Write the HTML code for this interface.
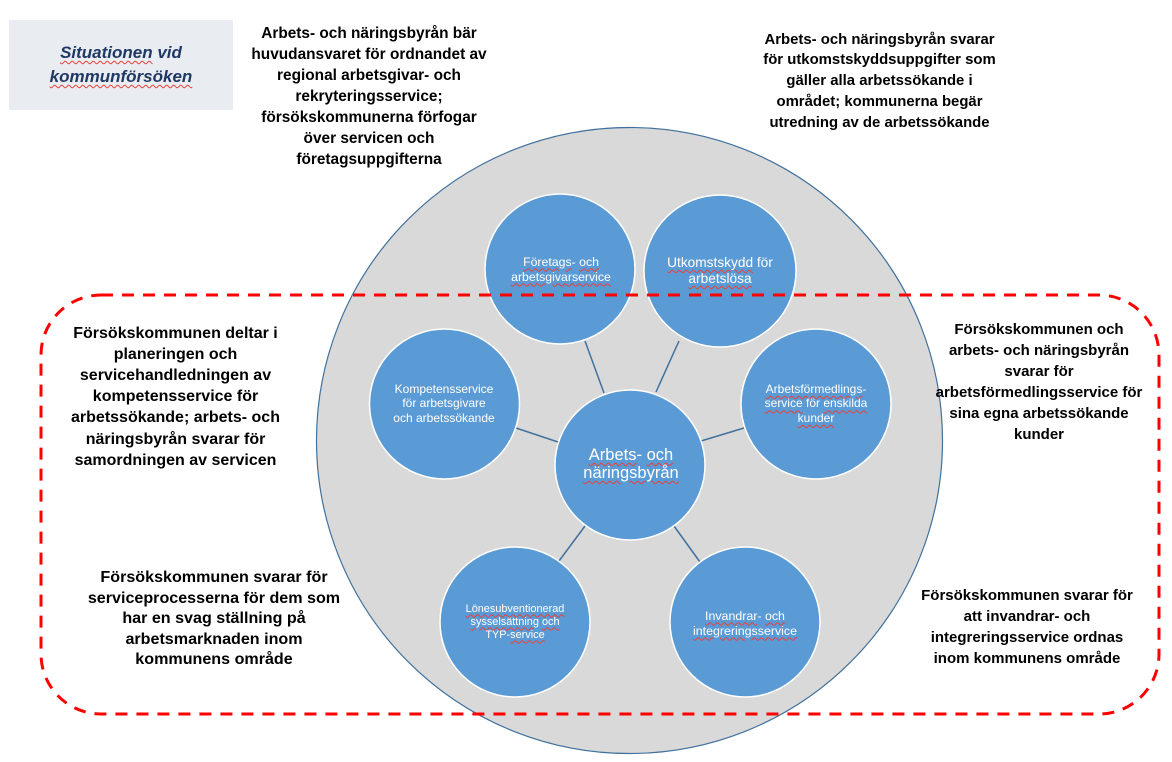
<!DOCTYPE html>
<html>
<head>
<meta charset="utf-8">
<style>
  html, body { margin:0; padding:0; background:#fff; }
  body { width:1172px; height:762px; position:relative; overflow:hidden;
         font-family:"Liberation Sans", "DejaVu Sans", sans-serif; }
  svg { position:absolute; left:0; top:0; }
  .t { position:absolute; text-align:center; white-space:nowrap; }
  .blk { font-weight:bold; color:#000; }
  .c { color:#fff; }
  .sq { text-decoration: underline wavy #e8403a; text-decoration-thickness:1px; text-underline-offset:2px; }
  .title { font-weight:bold; font-style:italic; color:#1F3864; font-size:17px; line-height:24px; }
</style>
</head>
<body>
<svg width="1172" height="762" viewBox="0 0 1172 762">
  <rect x="9" y="20" width="224" height="90" fill="#E9ECF1"/>
  <circle cx="629.5" cy="440.5" r="313" fill="#D9D9D9" stroke="#41719C" stroke-width="1.2"/>
  <g stroke="#41719C" stroke-width="1.5">
    <line x1="585" y1="341" x2="604" y2="393"/>
    <line x1="679" y1="341" x2="656" y2="392"/>
    <line x1="516" y1="428" x2="558" y2="442"/>
    <line x1="744" y1="428" x2="701" y2="441"/>
    <line x1="585" y1="526" x2="559" y2="561"/>
    <line x1="674" y1="526" x2="700" y2="562"/>
  </g>
  <g fill="#5B9BD5" stroke="#ffffff" stroke-width="1.5">
    <circle cx="560" cy="269" r="75"/>
    <circle cx="720" cy="271" r="76"/>
    <circle cx="444.5" cy="404" r="75"/>
    <circle cx="816" cy="404" r="75"/>
    <circle cx="630" cy="465" r="75"/>
    <circle cx="515" cy="622" r="75"/>
    <circle cx="745" cy="622" r="75"/>
  </g>
  <rect x="41" y="295" width="1118" height="419" rx="60" ry="60" fill="none" stroke="#FF0000" stroke-width="3" stroke-dasharray="12 9"/>
</svg>

<!-- Title -->
<div class="t title" style="left:9px; width:224px; top:41px;">
  <span class="sq">Situationen</span> vid<br><span class="sq">kommunförsöken</span>
</div>

<!-- Black text blocks -->
<div class="t blk" style="left:219px; width:300px; top:22.5px; font-size:15.4px; line-height:21px;">
Arbets- och näringsbyrån bär<br>huvudansvaret för ordnandet av<br>regional arbetsgivar- och<br>rekryteringsservice;<br>försökskommunerna förfogar<br>över servicen och<br>företagsuppgifterna
</div>

<div class="t blk" style="left:729.5px; width:300px; top:29.5px; font-size:14.9px; line-height:20.75px;">
Arbets- och näringsbyrån svarar<br>för utkomstskyddsuppgifter som<br>gäller alla arbetssökande i<br>området; kommunerna begär<br>utredning av de arbetssökande
</div>

<div class="t blk" style="left:35.5px; width:280px; top:322.5px; font-size:16px; line-height:21.2px;">
Försökskommunen deltar i<br>planeringen och<br>servicehandledningen av<br>kompetensservice för<br>arbetssökande; arbets- och<br>näringsbyrån svarar för<br>samordningen av servicen
</div>

<div class="t blk" style="left:909px; width:260px; top:318.5px; font-size:15px; line-height:21px;">
Försökskommunen och<br>arbets- och näringsbyrån<br>svarar för<br>arbetsförmedlingsservice för<br>sina egna arbetssökande<br>kunder
</div>

<div class="t blk" style="left:64px; width:300px; top:567px; font-size:16.1px; line-height:20.5px;">
Försökskommunen svarar för<br>serviceprocesserna för dem som<br>har en svag ställning på<br>arbetsmarknaden inom<br>kommunens område
</div>

<div class="t blk" style="left:897px; width:260px; top:584.5px; font-size:15px; line-height:21px;">
Försökskommunen svarar för<br>att invandrar- och<br>integreringsservice ordnas<br>inom kommunens område
</div>

<!-- Circle texts -->
<div class="t c" style="left:491px; width:140px; top:254.5px; font-size:12.3px; line-height:15px;">
<span class="sq">Företags</span>- <span class="sq">och</span><br><span class="sq">arbetsgivarservice</span>
</div>

<div class="t c" style="left:650px; width:140px; top:255px; font-size:13.7px; line-height:16px;">
<span class="sq">Utkomstskydd</span> för<br><span class="sq">arbetslösa</span>
</div>

<div class="t c" style="left:374px; width:140px; top:381.75px; font-size:12px; line-height:14.5px;">
Kompetensservice<br>för arbetsgivare<br>och arbetssökande
</div>

<div class="t c" style="left:746px; width:140px; top:381.75px; font-size:12px; line-height:14.5px;">
<span class="sq">Arbetsförmedlings</span>-<br><span class="sq">service</span> för <span class="sq">enskilda</span><br><span class="sq">kunder</span>
</div>

<div class="t c" style="left:561px; width:140px; top:446px; font-size:16.5px; line-height:18px;">
<span class="sq">Arbets</span>- <span class="sq">och</span><br><span class="sq">näringsbyrån</span>
</div>

<div class="t c" style="left:445px; width:140px; top:602.5px; font-size:10.9px; line-height:13px;">
<span class="sq">Lönesubventionerad</span><br><span class="sq">sysselsättning</span> <span class="sq">och</span><br>TYP-<span class="sq">service</span>
</div>

<div class="t c" style="left:675px; width:140px; top:608.5px; font-size:12.4px; line-height:15px;">
<span class="sq">Invandrar</span>- <span class="sq">och</span><br><span class="sq">integreringsservice</span>
</div>

</body>
</html>
